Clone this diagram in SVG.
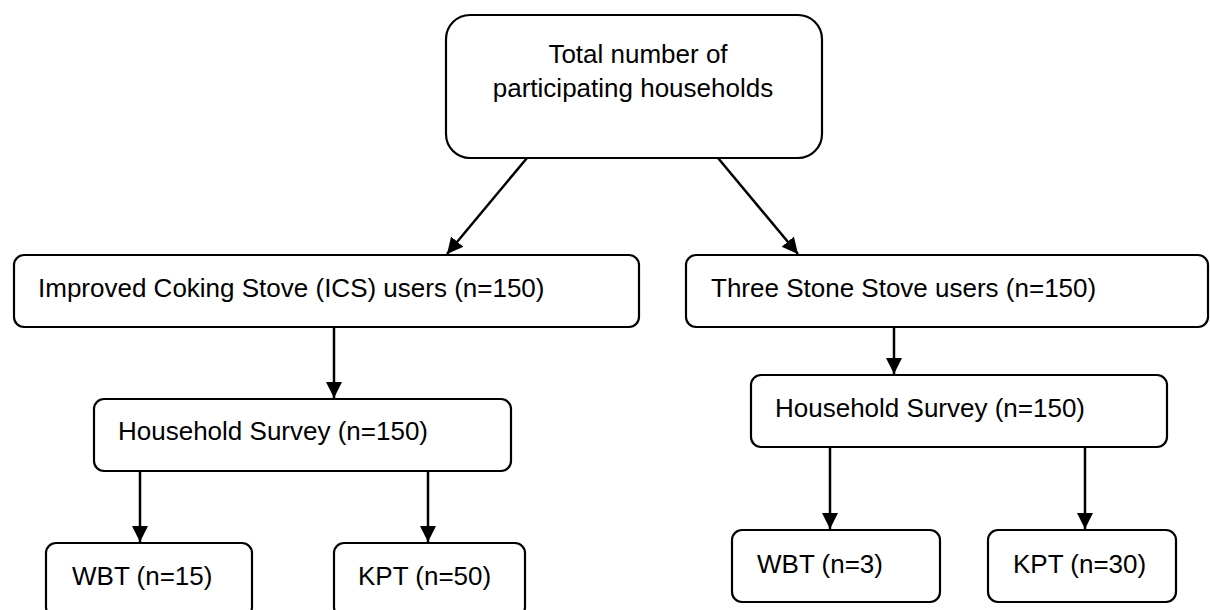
<svg xmlns="http://www.w3.org/2000/svg" width="1210" height="610" viewBox="0 0 1210 610">
<defs>
<style>
.box{fill:#fff;stroke:#000;stroke-width:2.2}
.t{font-family:"Liberation Sans",Arial,sans-serif;font-size:26px;fill:#000}
.c{stroke:#000;stroke-width:2.5;fill:none;marker-end:url(#ah)}
</style>
<marker id="ah" markerUnits="userSpaceOnUse" markerWidth="18" markerHeight="18" viewBox="0 0 18 18" refX="16" refY="9" orient="auto">
<path d="M0,1 L16,9 L0,17 Z" fill="#000"/>
</marker>
</defs>
<rect width="1210" height="610" fill="#fff"/>
<g id="connectors">
<line class="c" x1="527" y1="158" x2="447" y2="254"/>
<line class="c" x1="718" y1="158" x2="798" y2="254"/>
<line class="c" x1="334" y1="327" x2="334" y2="398"/>
<line class="c" x1="894" y1="327" x2="894" y2="374"/>
<line class="c" x1="140" y1="471" x2="140" y2="542"/>
<line class="c" x1="428" y1="471" x2="428" y2="542"/>
<line class="c" x1="830" y1="447" x2="830" y2="529"/>
<line class="c" x1="1085" y1="447" x2="1085" y2="529"/>
</g>
<g id="total">
<rect class="box" x="446" y="15" width="376" height="143" rx="24"/>
<text class="t" x="638" y="63" text-anchor="middle">Total number of</text>
<text class="t" x="633" y="97" text-anchor="middle">participating households</text>
</g>
<g id="ics">
<rect class="box" x="14" y="255" width="625" height="72" rx="10"/>
<text class="t" x="38" y="297">Improved Coking Stove (ICS) users (n=150)</text>
</g>
<g id="tss">
<rect class="box" x="686" y="255" width="522" height="72" rx="10"/>
<text class="t" x="711" y="297">Three Stone Stove users (n=150)</text>
</g>
<g id="hs-left">
<rect class="box" x="94" y="399" width="417" height="72" rx="10"/>
<text class="t" x="118" y="440">Household Survey (n=150)</text>
</g>
<g id="hs-right">
<rect class="box" x="751" y="375" width="416" height="72" rx="10"/>
<text class="t" x="775" y="417">Household Survey (n=150)</text>
</g>
<g id="wbt-left">
<rect class="box" x="46" y="543" width="206" height="74" rx="10"/>
<text class="t" x="72" y="585">WBT (n=15)</text>
</g>
<g id="kpt-left">
<rect class="box" x="334" y="543" width="191" height="74" rx="10"/>
<text class="t" x="358" y="585">KPT (n=50)</text>
</g>
<g id="wbt-right">
<rect class="box" x="732" y="530" width="208" height="72" rx="10"/>
<text class="t" x="757" y="573">WBT (n=3)</text>
</g>
<g id="kpt-right">
<rect class="box" x="988" y="530" width="188" height="72" rx="10"/>
<text class="t" x="1013" y="573">KPT (n=30)</text>
</g>
</svg>
